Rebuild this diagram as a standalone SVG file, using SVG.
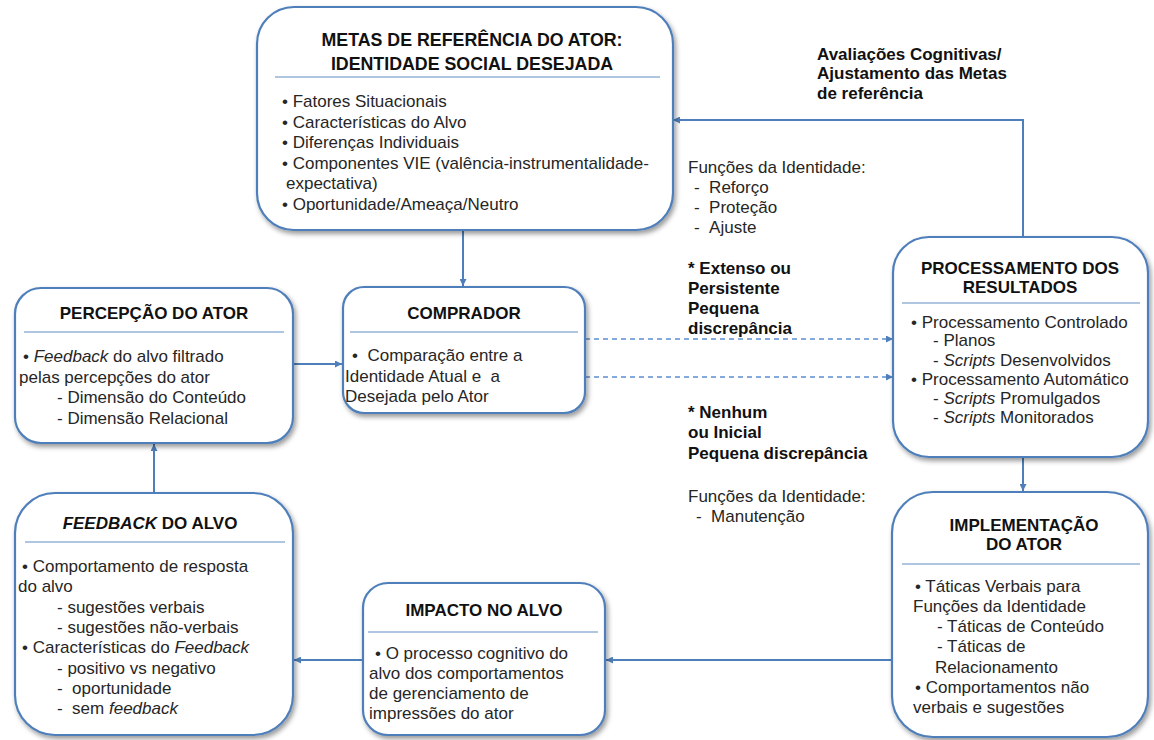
<svg xmlns="http://www.w3.org/2000/svg" width="1154" height="740" viewBox="0 0 1154 740">
<defs>
<filter id="sh" x="-10%" y="-10%" width="125%" height="130%">
<feDropShadow dx="2" dy="3" stdDeviation="2.5" flood-color="#000" flood-opacity="0.4"/>
</filter>
<marker id="ar" viewBox="0 0 10 10" refX="10" refY="5" markerWidth="8" markerHeight="7" markerUnits="userSpaceOnUse" orient="auto">
<path d="M0,0 L10,5 L0,10 z" fill="#4f7fba"/>
</marker>
</defs>
<style>
.box{fill:#fff;stroke:#4f7fba;stroke-width:2.2;filter:url(#sh)}
.div{stroke:#95b3d7;stroke-width:1.6}
.h{font-family:"Liberation Sans",Arial,sans-serif;font-size:17px;font-weight:bold;fill:#111;text-anchor:middle}
.t{font-family:"Liberation Sans",Arial,sans-serif;font-size:17px;fill:#262626}
.lb{font-family:"Liberation Sans",Arial,sans-serif;font-size:17px;font-weight:bold;fill:#111}
.i{font-style:italic}
.con{fill:none;stroke:#4f7fba;stroke-width:2}
.dash{fill:none;stroke:#5b8fd0;stroke-width:1.6;stroke-dasharray:5 4}
</style>
<rect width="1154" height="740" fill="#fff"/>

<g id="connectors">
<path class="con" d="M463,230 L463,286" marker-end="url(#ar)"/>
<path class="con" d="M293,364 L342,364" marker-end="url(#ar)"/>
<path class="dash" d="M585,339 L893,339" marker-end="url(#ar)"/>
<path class="dash" d="M585,377 L893,377" marker-end="url(#ar)"/>
<path class="con" d="M1023,237 L1023,120 L673,120" marker-end="url(#ar)"/>
<path class="con" d="M1023,457 L1023,491" marker-end="url(#ar)"/>
<path class="con" d="M892,660 L606,660" marker-end="url(#ar)"/>
<path class="con" d="M363,660 L294,660" marker-end="url(#ar)"/>
<path class="con" d="M154,493 L154,444" marker-end="url(#ar)"/>
</g>

<g id="metas">
<rect class="box" x="257" y="7" width="416" height="223" rx="37"/>
<text class="h" x="472" y="45.5" style="font-size:17.8px">METAS DE REFERÊNCIA DO ATOR:</text>
<text class="h" x="472" y="69.5" style="font-size:17.8px">IDENTIDADE SOCIAL DESEJADA</text>
<line class="div" x1="275" y1="77" x2="660" y2="77"/>
<text class="t" x="282" y="107">• Fatores Situacionais</text>
<text class="t" x="282" y="127.5">• Características do Alvo</text>
<text class="t" x="282" y="148">• Diferenças Individuais</text>
<text class="t" x="282" y="168.5">• Componentes VIE (valência-instrumentalidade-</text>
<text class="t" x="286" y="189">expectativa)</text>
<text class="t" x="282" y="209.5">• Oportunidade/Ameaça/Neutro</text>
</g>

<g id="comprador">
<rect class="box" x="343" y="287" width="242" height="126" rx="21"/>
<text class="h" x="464" y="319">COMPRADOR</text>
<line class="div" x1="350" y1="332" x2="578" y2="332"/>
<text class="t" x="352" y="361">• &#160;Comparação entre a</text>
<text class="t" x="345" y="381.5">Identidade Atual e &#160;a</text>
<text class="t" x="345" y="402">Desejada pelo Ator</text>
</g>

<g id="percepcao">
<rect class="box" x="15" y="288" width="278" height="155" rx="26"/>
<text class="h" x="154" y="319">PERCEPÇÃO DO ATOR</text>
<line class="div" x1="24" y1="332" x2="284" y2="332"/>
<text class="t" x="23" y="362">• <tspan class="i">Feedback</tspan> do alvo filtrado</text>
<text class="t" x="19" y="382.5">pelas percepções do ator</text>
<text class="t" x="57" y="403">- Dimensão do Conteúdo</text>
<text class="t" x="57" y="423.5">- Dimensão Relacional</text>
</g>

<g id="feedback">
<rect class="box" x="15" y="493" width="278" height="242" rx="40"/>
<text class="h" x="150" y="529"><tspan class="i">FEEDBACK</tspan> DO ALVO</text>
<line class="div" x1="25" y1="542" x2="285" y2="542"/>
<text class="t" x="22" y="572">• Comportamento de resposta</text>
<text class="t" x="18" y="592.3">do alvo</text>
<text class="t" x="57" y="612.6">- sugestões verbais</text>
<text class="t" x="57" y="632.9">- sugestões não-verbais</text>
<text class="t" x="22" y="653.2">• Características do <tspan class="i">Feedback</tspan></text>
<text class="t" x="57" y="673.5">- positivo vs negativo</text>
<text class="t" x="57" y="693.8">- &#160;oportunidade</text>
<text class="t" x="57" y="714.1">- &#160;sem <tspan class="i">feedback</tspan></text>
</g>

<g id="impacto">
<rect class="box" x="363" y="583" width="242" height="152" rx="25"/>
<text class="h" x="484" y="616">IMPACTO NO ALVO</text>
<line class="div" x1="368" y1="632" x2="598" y2="632"/>
<text class="t" x="375" y="659">• O processo cognitivo do</text>
<text class="t" x="369" y="679">alvo dos comportamentos</text>
<text class="t" x="369" y="699">de gerenciamento de</text>
<text class="t" x="369" y="719">impressões do ator</text>
</g>

<g id="processamento">
<rect class="box" x="893" y="237" width="255" height="220" rx="36"/>
<text class="h" x="1020" y="274">PROCESSAMENTO DOS</text>
<text class="h" x="1020" y="293">RESULTADOS</text>
<line class="div" x1="902" y1="303" x2="1140" y2="303"/>
<text class="t" x="911" y="327.5">• Processamento Controlado</text>
<text class="t" x="933" y="346">- Planos</text>
<text class="t" x="933" y="365.5">- <tspan class="i">Scripts</tspan> Desenvolvidos</text>
<text class="t" x="911" y="384.5">• Processamento Automático</text>
<text class="t" x="933" y="403.5">- <tspan class="i">Scripts</tspan> Promulgados</text>
<text class="t" x="933" y="422.5">- <tspan class="i">Scripts</tspan> Monitorados</text>
</g>

<g id="implementacao">
<rect class="box" x="892" y="492" width="256" height="245" rx="41"/>
<text class="h" x="1024" y="531">IMPLEMENTAÇÃO</text>
<text class="h" x="1024" y="550">DO ATOR</text>
<line class="div" x1="902" y1="564" x2="1140" y2="564"/>
<text class="t" x="915" y="592">• Táticas Verbais para</text>
<text class="t" x="913" y="612">Funções da Identidade</text>
<text class="t" x="937" y="632">- Táticas de Conteúdo</text>
<text class="t" x="937" y="652">- Táticas de</text>
<text class="t" x="935" y="672.5">Relacionamento</text>
<text class="t" x="915" y="692.5">• Comportamentos não</text>
<text class="t" x="913" y="712.5">verbais e sugestões</text>
</g>

<g id="labels">
<text class="lb" x="817" y="59.5">Avaliações Cognitivas/</text>
<text class="lb" x="817" y="79">Ajustamento das Metas</text>
<text class="lb" x="817" y="98.5">de referência</text>
<text class="t" x="688" y="172.5">Funções da Identidade:</text>
<text class="t" x="694" y="192.5">- &#160;Reforço</text>
<text class="t" x="694" y="212.5">- &#160;Proteção</text>
<text class="t" x="694" y="233">- &#160;Ajuste</text>
<text class="lb" x="688" y="273.5">* Extenso ou</text>
<text class="lb" x="688" y="293.5">Persistente</text>
<text class="lb" x="688" y="313.5">Pequena</text>
<text class="lb" x="688" y="333.5">discrepância</text>
<text class="lb" x="688" y="418">* Nenhum</text>
<text class="lb" x="688" y="438">ou Inicial</text>
<text class="lb" x="688" y="458.5">Pequena discrepância</text>
<text class="t" x="688" y="502">Funções da Identidade:</text>
<text class="t" x="696" y="522">- &#160;Manutenção</text>
</g>
</svg>
